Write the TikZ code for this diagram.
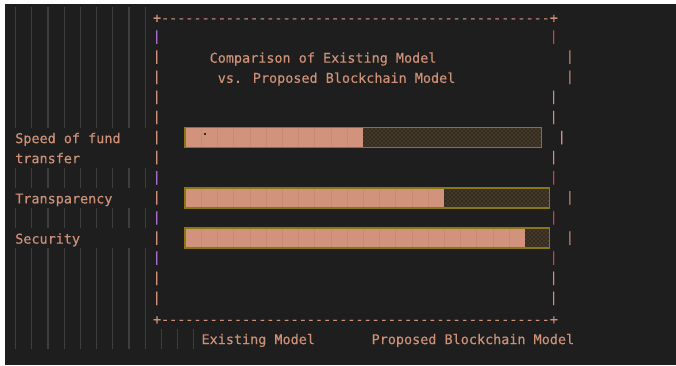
\documentclass[tikz,border=0pt]{standalone}
\usepackage{fontspec}
\newfontfamily\codefont{DejaVu Sans Mono}[FakeBold=0.25]
\usetikzlibrary{patterns}

\definecolor{editorbg}{HTML}{1E1E1E}
\definecolor{guide}{HTML}{3E3E3E}
\definecolor{strtxt}{HTML}{CE9178}
\definecolor{purplebar}{HTML}{A66CC8}
\definecolor{redbar}{HTML}{E23B3B}
\definecolor{barfill}{HTML}{D2937D}
\definecolor{barseam}{HTML}{C98A74}
\definecolor{barline}{HTML}{8A7712}
\definecolor{shadefill}{HTML}{342B21}
\definecolor{shadedot}{HTML}{7A6440}

\tikzset{
  code/.style={font=\codefont\fontsize{10.09pt}{12pt}\selectfont, text=strtxt, inner sep=0pt, anchor=base west},
  pipe/.style={font=\codefont\fontsize{10.09pt}{12pt}\selectfont, text=#1, inner sep=0pt, anchor=center},
  indentguide/.style={draw=guide, line width=0.9pt},
}

\begin{document}
\begin{tikzpicture}[x=0.75pt, y=-0.75pt]

% Canvas (1 unit = 1 px of the editor screenshot)
\useasboundingbox (0,0) rectangle (676,365);
\fill[white] (0,0) rectangle (676,365);
\fill[editorbg] (5,4) rectangle (676,365);

% Character grid: column c starts at 15+8.1c, row r is centred at 17+20.1r
\def\cw{8.1}
\def\lh{20.1}

% Indent guides
\foreach \r in {0,...,5,8,10,12,13,14,15} {
  \foreach \k in {0,2,...,16}
    \draw[indentguide] ({15.5+\cw*\k}, {17+\lh*\r-10.05}) -- ({15.5+\cw*\k}, {17+\lh*\r+10.05});
}
\foreach \k in {0,2,...,22}
  \draw[indentguide] ({15.5+\cw*\k}, {17+\lh*16-10.05}) -- ({15.5+\cw*\k}, {17+\lh*16+10.05});

% Frame top and bottom
\node[code] (frametop) at (15+\cw*17, 17+5.5) {+------------------------------------------------+};
\node[code] (framebot) at (15+\cw*17, {17+\lh*15+5.5}) {+------------------------------------------------+};

% Left side of frame
\foreach \r/\pc in {1/purplebar, 2/strtxt, 3/strtxt, 4/strtxt, 5/strtxt, 6/strtxt, 7/strtxt,
                    8/purplebar, 9/strtxt, 10/purplebar, 11/strtxt, 12/purplebar, 13/strtxt, 14/strtxt} {
  \node[pipe=\pc] (lpipe\r) at ({15+\cw*17.5}, {17+\lh*\r}) {|};
}

% Right side of frame (ragged)
\foreach \r/\c/\pc in {1/66/redbar, 2/68/strtxt, 3/68/strtxt, 4/66/strtxt, 5/66/strtxt, 6/67/strtxt,
                       7/66/strtxt, 8/66/redbar, 9/68/strtxt, 10/66/redbar, 11/68/strtxt,
                       12/66/redbar, 13/66/strtxt, 14/66/strtxt} {
  \node[pipe=\pc] (rpipe\r) at ({15+\cw*(\c+0.5)}, {17+\lh*\r}) {|};
}

% Title
\node[code] (titleA) at (15+\cw*24, {17+\lh*2+5.5}) {Comparison of Existing Model};
\node[code] (titleB) at (15+\cw*25, {17+\lh*3+5.5}) {vs. Proposed Blockchain Model};

% Row labels
\node[code] (speedA) at (15, {17+\lh*6+5.5}) {Speed of fund};
\node[code] (speedB) at (15, {17+\lh*7+5.5}) {transfer};
\node[code] (transp) at (15, {17+\lh*9+5.5}) {Transparency};
\node[code] (secur)  at (15, {17+\lh*11+5.5}) {Security};

% Bars: row / last column / end of filled part
\foreach \r/\e/\f in {6/65/43, 9/66/53, 11/66/63} {
  \fill[shadefill] ({15+\cw*\f}, {17+\lh*\r-10}) rectangle ({15+\cw*\e}, {17+\lh*\r+10});
  \fill[pattern=crosshatch dots, pattern color=shadedot] ({15+\cw*\f}, {17+\lh*\r-10}) rectangle ({15+\cw*\e}, {17+\lh*\r+10});
  \fill[barfill] ({15+\cw*21}, {17+\lh*\r-10}) rectangle ({15+\cw*\f}, {17+\lh*\r+10});
  \pgfmathtruncatemacro\lastseam{\f-2}
  \foreach \k in {23,25,...,\lastseam}
    \draw[barseam, line width=0.4pt] ({15+\cw*\k}, {17+\lh*\r-9}) -- ({15+\cw*\k}, {17+\lh*\r+9});
  \draw[barline, line width=1pt] ({15+\cw*21}, {17+\lh*\r-10}) rectangle ({15+\cw*\e}, {17+\lh*\r+10});
}
\fill[shadefill] (204,133) rectangle (206,135);

% Legend
\node[code] (legexist) at (15+\cw*23, {17+\lh*16+5.5}) {Existing Model};
\node[code] (legprop)  at (15+\cw*44, {17+\lh*16+5.5}) {Proposed Blockchain Model};

\end{tikzpicture}
\end{document}
